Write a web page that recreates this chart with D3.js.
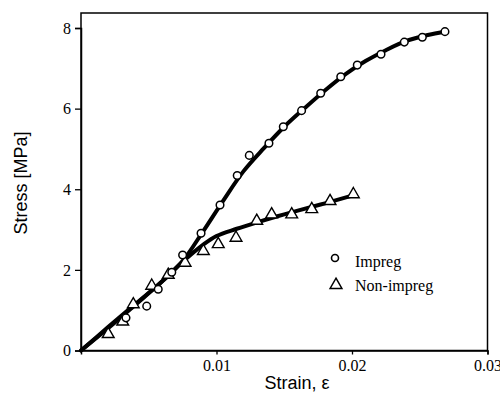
<!DOCTYPE html>
<html><head><meta charset="utf-8">
<script src="https://cdn.jsdelivr.net/npm/d3@7"></script>
<style>
html,body{margin:0;padding:0;background:#fff;}
svg{display:block;}
</style>
</head><body>
<svg id="chart" width="500" height="394"></svg>
<script>
// ---- data ----
const impregStrain = [0.00332,0.00485,0.0057,0.0067,0.0075,0.00886,0.01026,0.01153,0.01242,0.01387,0.01493,0.01628,0.01769,0.01917,0.02039,0.02214,0.02386,0.02519,0.02686];
const impregStress = [0.81,1.10,1.52,1.94,2.37,2.91,3.61,4.34,4.84,5.14,5.55,5.95,6.38,6.79,7.08,7.35,7.65,7.77,7.91];
const nonStrain = [0.00201,0.00308,0.00386,0.00522,0.00644,0.00768,0.00903,0.01013,0.01144,0.01297,0.01407,0.01555,0.01703,0.01838,0.0201];
const nonStress = [0.43,0.74,1.17,1.63,1.90,2.20,2.49,2.66,2.82,3.24,3.40,3.40,3.53,3.73,3.90];
const impregFitStrain = [0,0.002,0.004,0.006,0.0075,0.009,0.0105,0.012,0.0135,0.015,0.0165,0.018,0.0195,0.021,0.0225,0.024,0.0255,0.027];
const impregFitStress = [0,0.55,1.13,1.72,2.22,2.95,3.72,4.45,5.02,5.55,6.01,6.45,6.85,7.18,7.45,7.68,7.82,7.92];
const nonFitStrain = [0,0.002,0.004,0.006,0.0075,0.009,0.01,0.0115,0.013,0.0145,0.016,0.018,0.0202];
const nonFitStress = [0,0.58,1.15,1.72,2.2,2.62,2.84,3.02,3.18,3.33,3.47,3.65,3.86];
const xTicks = [0.01,0.02,0.03];
const xTickLabels = ["0.01","0.02","0.03"];
const yTicks = [0,2,4,6,8];
const yTickLabels = ["0","2","4","6","8"];
const legendLabels = ["Impreg","Non-impreg"];
const xTitle = "Strain, \u03b5";
const yTitle = "Stress [MPa]";

// ---- layout ----
const svg = d3.select("#chart");
const L = 81, R = 487.5, T = 13, B = 350.5;
const serif = "'Liberation Serif','Times New Roman',Times,serif";
const sans = "'Liberation Sans',Arial,Helvetica,sans-serif";
const x = d3.scaleLinear().domain([0,0.03]).range([L,R]);
const y = d3.scaleLinear().domain([0,8]).range([B,28]);

// frame
svg.append("rect").attr("x",L).attr("y",T).attr("width",R-L).attr("height",B-T)
  .attr("fill","none").attr("stroke","#000").attr("stroke-width",1.5);

// axes
const yAxis = svg.append("g").attr("transform",`translate(${L},0)`)
  .call(d3.axisLeft(y).tickValues(yTicks).tickFormat((d,i)=>yTickLabels[i]).tickSize(6).tickPadding(4));
const xAxis = svg.append("g").attr("transform",`translate(0,${B})`)
  .call(d3.axisBottom(x).tickValues(xTicks).tickFormat((d,i)=>xTickLabels[i]).tickSize(4).tickPadding(5));
[yAxis,xAxis].forEach(g=>{
  g.attr("font-family",serif).attr("font-size",16);
  g.select(".domain").attr("stroke","#000").attr("stroke-width",1.5);
  g.selectAll(".tick line").attr("stroke","#000").attr("stroke-width",1.3);
  g.selectAll(".tick text").attr("font-family",serif).attr("font-size",16).attr("fill","#000");
});

// titles
svg.append("text").attr("x",297).attr("y",389).attr("text-anchor","middle")
  .attr("font-family",sans).attr("font-size",18).text(xTitle);
svg.append("text").attr("transform","translate(27,183) rotate(-90)").attr("text-anchor","middle")
  .attr("font-family",sans).attr("font-size",18).text(yTitle);

// fit lines
const line = d3.line().x(d=>x(d[0])).y(d=>y(d[1])).curve(d3.curveCatmullRom.alpha(0.5));
const impFit = impregFitStrain.map((s,i)=>[s,impregFitStress[i]]);
const nonFit = nonFitStrain.map((s,i)=>[s,nonFitStress[i]]);
svg.append("path").datum(nonFit).attr("d",line).attr("fill","none").attr("stroke","#000").attr("stroke-width",4).attr("stroke-linecap","round");
svg.append("path").datum(impFit).attr("d",line).attr("fill","none").attr("stroke","#000").attr("stroke-width",4).attr("stroke-linecap","round");

// markers
const tri = d3.symbol().type(d3.symbolTriangle).size(60);
const nonPts = nonStrain.map((s,i)=>[s,nonStress[i]]);
const impPts = impregStrain.map((s,i)=>[s,impregStress[i]]);
svg.append("g").selectAll("path").data(nonPts).join("path")
  .attr("d",tri).attr("transform",d=>`translate(${x(d[0])},${y(d[1])+1})`)
  .attr("fill","#fff").attr("stroke","#000").attr("stroke-width",1.4);
svg.append("g").selectAll("circle").data(impPts).join("circle")
  .attr("cx",d=>x(d[0])).attr("cy",d=>y(d[1])).attr("r",3.8)
  .attr("fill","#fff").attr("stroke","#000").attr("stroke-width",1.5);

// legend
const lg = svg.append("g");
lg.append("circle").attr("cx",335).attr("cy",258).attr("r",3.5).attr("fill","#fff").attr("stroke","#000").attr("stroke-width",1.6);
lg.append("path").attr("d",tri).attr("transform","translate(336,285)").attr("fill","#fff").attr("stroke","#000").attr("stroke-width",1.5);
lg.selectAll("text").data(legendLabels).join("text")
  .attr("x",355).attr("y",(d,i)=>267+i*24)
  .attr("font-family",serif).attr("font-size",16).text(d=>d);
</script>
</body></html>
